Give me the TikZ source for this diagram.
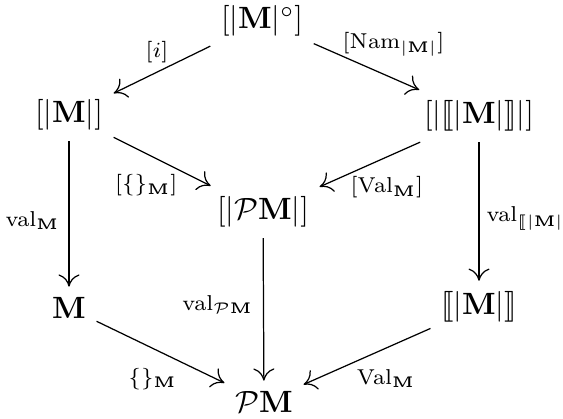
\documentclass[tikz,border=0pt]{standalone}
\usepackage{amsmath,amssymb,stmaryrd}
\usetikzlibrary{arrows.meta}
\tikzset{
  obj/.style={inner sep=3.3pt},
  mapln/.style={-{To[length=1.4mm,width=2.4mm]}, line width=0.4pt},
  lbl/.style={font=\scriptsize, inner sep=0pt},
}
\newcommand{\bM}{\mathbf{M}}
\newcommand{\semb}[1]{\llbracket #1\rrbracket}

\begin{document}
\begin{tikzpicture}[x=0.325pt, y=-0.325pt]
    \useasboundingbox (0,0) rectangle (563,419);
    \node[obj] (top) at (262,21) {$[|\bM|^\circ]$};
    \node[obj] (lm) at (69,115) {$[|\bM|]$};
    \node[obj] (rm) at (479,116) {$[|\semb{|\bM|}|]$};
    \node[obj] (pm) at (263,212) {$[|\mathcal{P}\bM|]$};
    \node[obj] (m) at (69,308) {$\bM$};
    \node[obj] (sm) at (479,307) {$\semb{|\bM|}$};
    \node[obj] (p) at (264,402) {$\mathcal{P}\bM$};
    % upper square
    \draw[mapln] (top) -- node[lbl, shift={(-5,-18)}] {$[i]$} (lm);
    \draw[mapln] (top) -- node[lbl, shift={(27,-22)}] {$[\mathrm{Nam}_{|\bM|}]$} (rm);
    \draw[mapln] (lm) -- node[lbl, shift={(-16,24)}] {$[\{\}_{\bM}]$} (pm);
    \draw[mapln] (rm) -- node[lbl, shift={(17,23)}] {$[\mathrm{Val}_{\bM}]$} (pm);
    % vertical maps
    \draw[mapln] (lm) -- node[lbl, anchor=east, shift={(-9,7)}] {$\mathrm{val}_{\bM}$} (m);
    \draw[mapln] (rm) -- node[lbl, anchor=west, shift={(7,7)}] {$\mathrm{val}_{\semb{|\bM|}}$} (sm);
    \draw[mapln] (pm) -- node[lbl, anchor=east, shift={(-10,-5)}] {$\mathrm{val}_{\mathcal{P}\bM}$} (p);
    % lower square
    \draw[mapln] (m) -- node[lbl, shift={(-8,27)}] {$\{\}_{\bM}$} (p);
    \draw[mapln] (sm) -- node[lbl, shift={(19,22)}] {$\mathrm{Val}_{\bM}$} (p);
\end{tikzpicture}
\end{document}
